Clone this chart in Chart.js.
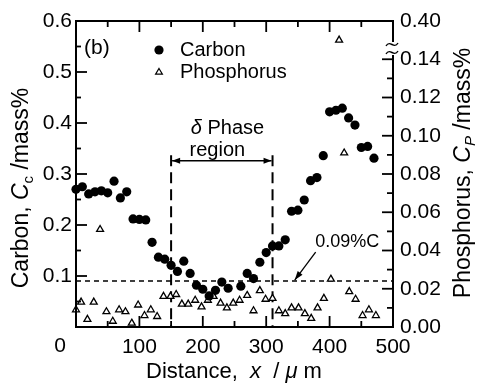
<!DOCTYPE html>
<html>
<head>
<meta charset="utf-8">
<script src="https://cdn.jsdelivr.net/npm/chart.js@4/dist/chart.umd.min.js"></script>
<style>
  html, body { margin: 0; padding: 0; background: #fff; }
</style>
</head>
<body>
<canvas id="profile" width="481" height="383"></canvas>
<script>
const FONT = '"Liberation Sans", Arial, Helvetica, sans-serif';

// carbon profile (distance in um, mass%)
const carbonX = [0, 10, 20, 30, 40, 50, 60, 70, 80, 90, 100, 110, 120, 130, 140, 150, 160, 170, 180, 190,
  200, 210, 220, 230, 240, 260, 270, 280, 290, 300, 310, 320, 330, 340, 350, 360, 370, 380, 390,
  400, 410, 420, 430, 440, 450, 460, 470];
const carbonC = [0.270, 0.275, 0.261, 0.265, 0.267, 0.263, 0.286, 0.253, 0.265, 0.212, 0.211, 0.210, 0.166,
  0.137, 0.133, 0.121, 0.109, 0.129, 0.105, 0.082, 0.074, 0.061, 0.072, 0.088, 0.076, 0.080, 0.105,
  0.095, 0.127, 0.146, 0.159, 0.159, 0.171, 0.227, 0.229, 0.249, 0.287, 0.293, 0.336, 0.422, 0.425,
  0.429, 0.410, 0.396, 0.352, 0.354, 0.331];

// phosphorus profile (right axis, broken above 0.14)
const phosX = [0, 8, 18, 28, 38, 48, 58, 68, 78, 88, 98, 108, 118, 128, 138, 149, 158, 167, 177, 188,
  198, 208, 217, 228, 238, 248, 258, 270, 280, 290, 299, 310, 320, 330, 340, 351, 361, 371, 381, 391,
  402, 415, 423, 431, 441, 452, 462, 473];
const phosC = [0.009, 0.013, 0.004, 0.013, 0.051, 0.008, 0.003, 0.009, 0.008, 0.002, 0.0115, 0.006, 0.009,
  0.0055, 0.016, 0.016, 0.017, 0.012, 0.012, 0.014, 0.0105, 0.014, 0.016, 0.0125, 0.010, 0.0125, 0.014,
  0.0165, 0.0085, 0.019, 0.0145, 0.015, 0.0085, 0.007, 0.010, 0.010, 0.007, 0.0045, 0.010, 0.015,
  0.025, 0.150, 0.091, 0.0185, 0.0145, 0.006, 0.009, 0.006];

const phosTickLabels = ['0.00', '0.02', '0.04', '0.06', '0.08', '0.10', '0.12', '0.14', '0.40'];
const phaseBounds = [150, 310];
const limitC = 0.09;

function line(ctx, x1, y1, x2, y2) {
  ctx.beginPath(); ctx.moveTo(x1, y1); ctx.lineTo(x2, y2); ctx.stroke();
}

function arrowHead(ctx, x1, y1, x2, y2, len, half) {
  const a = Math.atan2(y2 - y1, x2 - x1);
  ctx.beginPath();
  ctx.moveTo(x2, y2);
  ctx.lineTo(x2 - len * Math.cos(a) + half * Math.sin(a), y2 - len * Math.sin(a) - half * Math.cos(a));
  ctx.lineTo(x2 - len * Math.cos(a) - half * Math.sin(a), y2 - len * Math.sin(a) + half * Math.cos(a));
  ctx.closePath(); ctx.fill();
}

// parts: [text, italic, subscript]
function richText(ctx, parts, cx, cy, size) {
  const fontFor = p => (p[1] ? 'italic ' : '') + (p[2] ? Math.round(size * 0.65) : size) + 'px ' + FONT;
  let w = 0;
  for (const p of parts) { ctx.font = fontFor(p); w += ctx.measureText(p[0]).width; }
  let x = cx - w / 2;
  ctx.textAlign = 'left'; ctx.textBaseline = 'middle';
  for (const p of parts) {
    ctx.font = fontFor(p);
    ctx.fillText(p[0], x, cy + (p[2] ? size * 0.3 : 0));
    x += ctx.measureText(p[0]).width;
  }
}

const decorations = {
  id: 'decorations',
  beforeDatasetsDraw(chart) {
    const { ctx, chartArea: a, scales: { x, y } } = chart;
    ctx.save();
    ctx.strokeStyle = '#000'; ctx.fillStyle = '#000';
    // 0.09%C line
    ctx.lineWidth = 1.5; ctx.setLineDash([5, 4]);
    const yl = y.getPixelForValue(limitC);
    line(ctx, a.left, yl, a.right, yl);
    // delta phase boundaries
    ctx.lineWidth = 2; ctx.setLineDash([11, 6]);
    for (const b of phaseBounds) {
      const xb = x.getPixelForValue(b);
      line(ctx, xb, y.getPixelForValue(0.337), xb, a.bottom);
    }
    ctx.setLineDash([]);
    // region arrow
    const ya = y.getPixelForValue(0.326);
    const x1 = x.getPixelForValue(phaseBounds[0]) + 1, x2 = x.getPixelForValue(phaseBounds[1]) - 1;
    ctx.lineWidth = 1.5;
    line(ctx, x1, ya, x2, ya);
    arrowHead(ctx, x2, ya, x1, ya, 8, 3);
    arrowHead(ctx, x1, ya, x2, ya, 8, 3);
    // arrow to 0.09%C line
    const sx = x.getPixelForValue(378), sy = y.getPixelForValue(0.147);
    const ex = x.getPixelForValue(345), ey = y.getPixelForValue(0.092);
    ctx.lineWidth = 1.3;
    line(ctx, sx, sy, ex, ey);
    arrowHead(ctx, sx, sy, ex, ey, 9, 3);
    ctx.restore();
  },
  afterDraw(chart) {
    const { ctx, chartArea: a, scales: { x, y, y1 } } = chart;
    ctx.save();
    ctx.strokeStyle = '#000'; ctx.fillStyle = '#000';
    ctx.lineWidth = 2;
    ctx.strokeRect(a.left, a.top, a.right - a.left, a.bottom - a.top);
    // inward ticks
    ctx.lineWidth = 1.8;
    for (let i = 1; i < 12; i++) {
      const py = y.getPixelForValue(i * 0.05), len = i % 2 ? 5 : 11;
      line(ctx, a.left, py, a.left + len, py);
    }
    for (let i = 1; i <= 14; i++) {
      const py = y1.getPixelForValue(i * 0.01), len = i % 2 ? 6 : 11;
      line(ctx, a.right - len, py, a.right, py);
    }
    for (let i = 1; i < 10; i++) {
      const px = x.getPixelForValue(i * 50), len = i % 2 ? 6 : 11;
      line(ctx, px, a.bottom, px, a.bottom - len);
      line(ctx, px, a.top, px, a.top + len);
    }
    // axis break on right axis
    ctx.fillStyle = '#fff';
    ctx.fillRect(a.right - 3, 42, 6, 13);
    ctx.lineWidth = 1.4;
    for (const yb of [44, 52]) {
      ctx.beginPath();
      ctx.moveTo(a.right - 7, yb + 2);
      ctx.bezierCurveTo(a.right - 3, yb - 5, a.right + 1, yb + 6, a.right + 5, yb - 1);
      ctx.stroke();
    }
    ctx.fillStyle = '#000';
    // "0" at the origin
    ctx.font = '21px ' + FONT; ctx.textAlign = 'center'; ctx.textBaseline = 'middle';
    ctx.fillText('0', 60, 346);
    // legend
    ctx.beginPath(); ctx.arc(159, 50, 4.6, 0, Math.PI * 2); ctx.fill();
    ctx.lineWidth = 1.2;
    ctx.beginPath(); ctx.moveTo(159, 68.5); ctx.lineTo(162.4, 74.2); ctx.lineTo(155.6, 74.2); ctx.closePath(); ctx.stroke();
    ctx.font = '20px ' + FONT; ctx.textAlign = 'left';
    ctx.fillText('Carbon', 180, 50);
    ctx.fillText('Phosphorus', 180, 72);
    ctx.font = '21px ' + FONT;
    ctx.fillText('(b)', 84, 48);
    // annotations
    richText(ctx, [['\u03b4', true], [' Phase']], x.getPixelForValue(239), y.getPixelForValue(0.39), 20);
    richText(ctx, [['region']], x.getPixelForValue(223), y.getPixelForValue(0.347), 20);
    richText(ctx, [['0.09%C']], x.getPixelForValue(428), y.getPixelForValue(0.167), 18);
    // axis titles
    richText(ctx, [['Distance,  '], ['x', true], ['  / '], ['\u03bc', true], [' m']], 234, 372, 22);
    ctx.translate(22, 188); ctx.rotate(-Math.PI / 2);
    richText(ctx, [['Carbon, '], ['C', true], ['c', false, true], [' /mass%']], 0, 0, 23);
    ctx.setTransform(1, 0, 0, 1, 0, 0);
    ctx.translate(464, 173); ctx.rotate(-Math.PI / 2);
    richText(ctx, [['Phosphorus, '], ['C', true], ['P', true, true], [' /mass%']], 0, 0, 23);
    ctx.restore();
  }
};

const tickFont = { family: FONT, size: 21 };

new Chart(document.getElementById('profile'), {
  type: 'scatter',
  data: {
    datasets: [
      {
        label: 'Carbon',
        data: carbonX.map((d, i) => ({ x: d, y: carbonC[i] })),
        yAxisID: 'y',
        pointStyle: 'circle',
        pointRadius: 4.6,
        backgroundColor: '#000',
        borderWidth: 0,
        clip: false
      },
      {
        label: 'Phosphorus',
        data: phosX.map((d, i) => ({ x: d, y: phosC[i] })),
        yAxisID: 'y1',
        pointStyle: 'triangle',
        pointRadius: 4,
        backgroundColor: '#fff',
        borderColor: '#000',
        borderWidth: 1.3,
        clip: false
      }
    ]
  },
  options: {
    responsive: false,
    animation: false,
    layout: { padding: { top: 21 } },
    plugins: { legend: { display: false }, tooltip: { enabled: false } },
    scales: {
      x: {
        type: 'linear', min: 0, max: 500,
        grid: { display: false, drawTicks: false }, border: { display: false },
        ticks: { stepSize: 100, padding: 8, color: '#000', font: tickFont, callback: v => v === 0 ? '' : v },
        afterFit: s => { s.height = 56; }
      },
      y: {
        position: 'left', min: 0, max: 0.6,
        grid: { display: false, drawTicks: false }, border: { display: false },
        ticks: { stepSize: 0.1, padding: 4, color: '#000', font: tickFont, callback: v => v === 0 ? '' : v.toFixed(1) },
        afterFit: s => { s.width = 76; }
      },
      y1: {
        position: 'right', min: 0, max: 0.16,
        grid: { display: false, drawTicks: false }, border: { display: false },
        ticks: { stepSize: 0.02, padding: 7, color: '#000', font: tickFont, callback: v => phosTickLabels[Math.round(v / 0.02)] },
        afterFit: s => { s.width = 88; }
      }
    }
  },
  plugins: [decorations]
});
</script>
</body>
</html>
